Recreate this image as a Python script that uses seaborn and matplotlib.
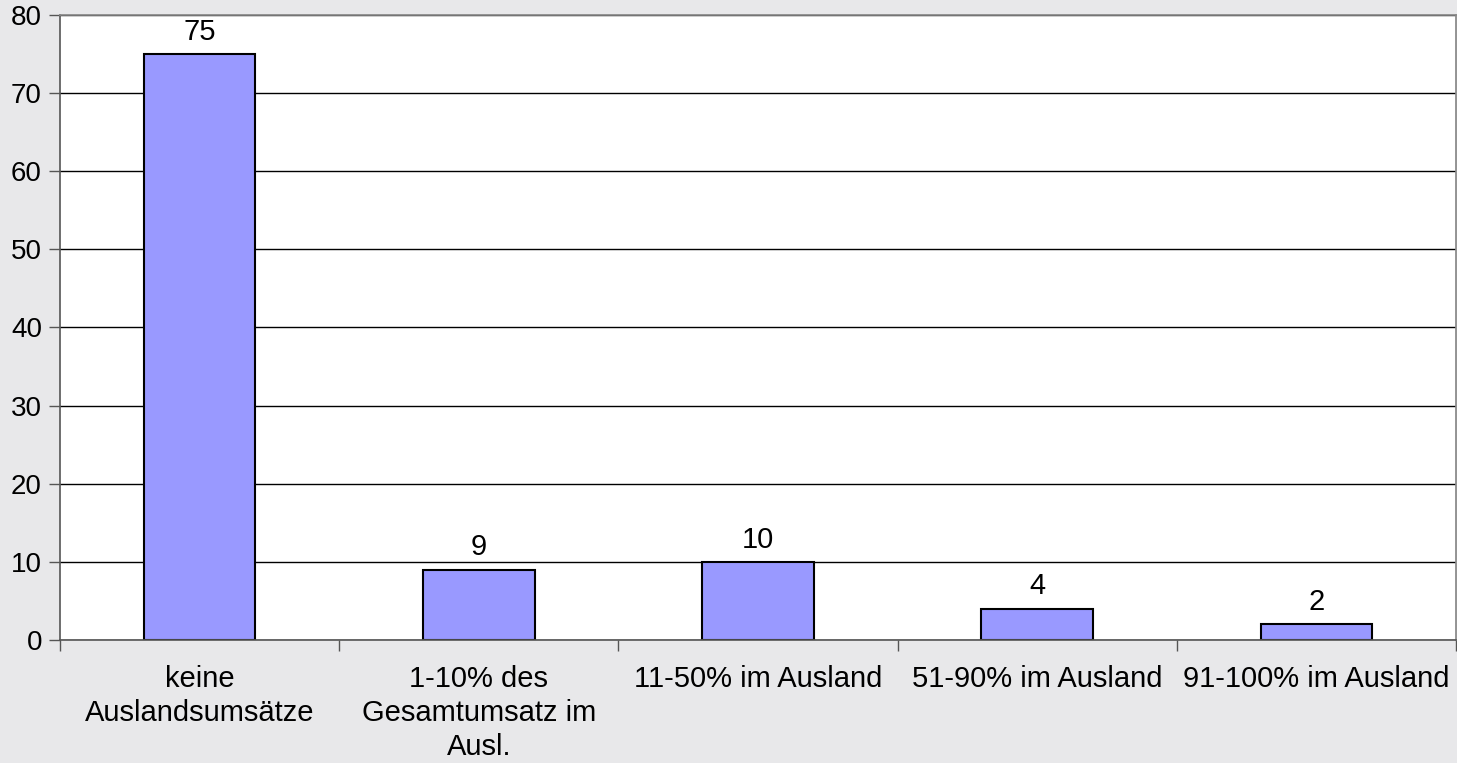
import matplotlib
matplotlib.use("Agg")
import matplotlib.pyplot as plt
import seaborn as sns
import pandas as pd
from matplotlib.ticker import FixedLocator, MultipleLocator

categories = ["keine\nAuslandsumsätze", "1-10% des\nGesamtumsatz im\nAusl.",
              "11-50% im Ausland", "51-90% im Ausland", "91-100% im Ausland"]
values = [75, 9, 10, 4, 2]

sns.set_theme(style="white")
plt.rcParams['font.family'] = ['Liberation Sans', 'DejaVu Sans']

df = pd.DataFrame({"cat": categories, "val": values})

W, H = 1457, 763
FS = 21
fig = plt.figure(figsize=(W / 100, H / 100), dpi=100, facecolor="#e8e8ea")
ax = fig.add_axes([60 / W, (H - 640) / H, (1456 - 60) / W, (640 - 15) / H])
ax.set_facecolor("white")

sns.barplot(data=df, x="cat", y="val", color="#9999FF", width=0.4,
            edgecolor="black", linewidth=1.5, saturation=1, ax=ax)

ax.set_ylim(0, 80)
ax.set_xlim(-0.5, len(categories) - 0.5)
ax.yaxis.set_major_locator(MultipleLocator(10))
ax.grid(axis="y", color="black", linewidth=1)
ax.set_axisbelow(True)

ax.set_xlabel("")
ax.set_ylabel("")
ax.tick_params(axis="x", which="major", length=0, pad=18, labelsize=FS, colors="black")
ax.xaxis.set_minor_locator(FixedLocator([i - 0.5 for i in range(len(categories) + 1)]))
ax.tick_params(axis="x", which="minor", length=8, width=1, color="#555555", direction="out", bottom=True)
ax.tick_params(axis="y", length=8, width=1, color="#555555", direction="out", left=True,
               labelsize=20, labelcolor="black", pad=5)
for lbl in ax.get_xticklabels():
    lbl.set_verticalalignment("top")
    lbl.set_horizontalalignment("center")
    lbl.set_multialignment("center")
    lbl.set_linespacing(1.28)

for side in ["left", "bottom"]:
    ax.spines[side].set_color("#555555")
    ax.spines[side].set_linewidth(1.2)
ax.spines["top"].set_color("#888888")
ax.spines["right"].set_color("#888888")

ax.bar_label(ax.containers[0], labels=[str(v) for v in values], padding=6, fontsize=FS, color="black")

fig.savefig("out.png", dpi=100, facecolor=fig.get_facecolor())
